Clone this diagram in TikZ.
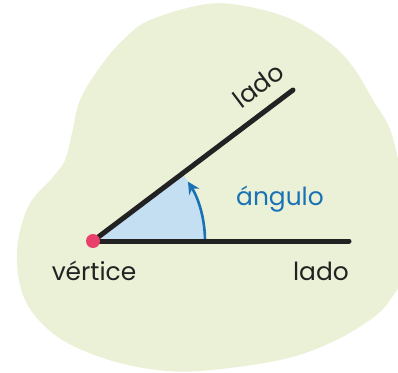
\documentclass[tikz,border=0pt]{standalone}
\usepackage{fontspec}
\setmainfont{Poppins}
\usetikzlibrary{arrows.meta,calc}
\definecolor{bg}{HTML}{EAF1D6}
\definecolor{angfill}{HTML}{C4DFF2}
\definecolor{arrowblue}{HTML}{1A72B5}
\definecolor{dotpink}{HTML}{E8406B}
\definecolor{ink}{HTML}{222222}
\tikzset{
  side/.style={line width=5bp, line cap=round, ink},
  lbl/.style={font=\fontsize{25}{30}\selectfont, text=ink, inner sep=0pt},
}
\begin{document}
\begin{tikzpicture}[x=1bp,y=-1bp]
\useasboundingbox (0,0) rectangle (398,373);
\begin{scope}
\clip (0,0) rectangle (398,373);
\fill[bg] plot[smooth cycle, tension=0.6] coordinates {
 (207,4) (250,7) (293,20) (330,43) (353,67) (373,100) (392,135) (404,200) (404,270)
 (390,300) (370,320) (330,343) (280,360) (200,371) (150,369) (100,357) (55,335) (25,300)
 (17,253) (28,207) (53,177) (65,160) (72,133) (80,100) (100,67) (123,40) (150,20)};
\end{scope}
\coordinate (V) at (93,241);
\coordinate (H) at (349,241);
\coordinate (U) at (293,90);
\fill[angfill] (V) -- ($(V)+(112,0)$) arc[start angle=0, end angle=37, radius=112bp] -- cycle;
\draw[arrowblue, line width=2.6bp, -{Stealth[length=12bp,width=12bp]}] ($(V)+(112,0)$) arc[start angle=0, end angle=32, radius=112bp];
\draw[side] (V) -- (H);
\draw[side] (V) -- (U);
\fill[dotpink] (V) circle (7bp);
\node[lbl, anchor=base] (vert) at (94,280) {vértice};
\node[lbl, anchor=base east] (lado1) at (349,280) {lado};
\node[lbl, anchor=base, text=arrowblue] (ang) at (280,205) {ángulo};
\node[lbl, rotate=37] (lado2) at (258,85) {lado};
\end{tikzpicture}
\end{document}
